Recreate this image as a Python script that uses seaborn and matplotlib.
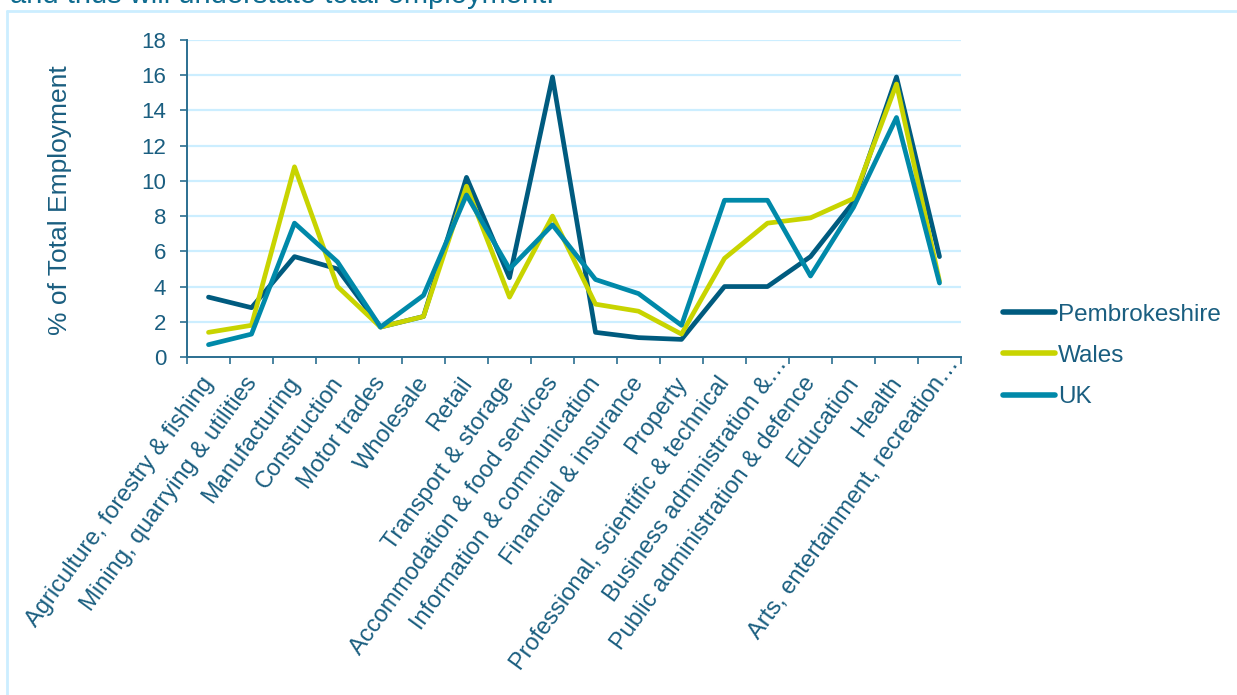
import matplotlib
matplotlib.use("Agg")
import numpy as np
import matplotlib.pyplot as plt
import matplotlib.transforms as mtransforms
from matplotlib.lines import Line2D
import seaborn as sns
import pandas as pd

# Employment share by sector (% of total employment)
sectors = [
    "Agriculture, forestry & fishing",
    "Mining, quarrying & utilities",
    "Manufacturing",
    "Construction",
    "Motor trades",
    "Wholesale",
    "Retail",
    "Transport & storage",
    "Accommodation & food services",
    "Information & communication",
    "Financial & insurance",
    "Property",
    "Professional, scientific & technical",
    "Business administration &\u2026",
    "Public administration & defence",
    "Education",
    "Health",
    "Arts, entertainment, recreation\u2026",
]
pembrokeshire = [3.4, 2.8, 5.7, 5.0, 1.7, 2.3, 10.2, 4.5, 15.9, 1.4, 1.1, 1.0, 4.0, 4.0, 5.7, 8.8, 15.9, 5.7]
wales = [1.4, 1.8, 10.8, 4.0, 1.7, 2.3, 9.7, 3.4, 8.0, 3.0, 2.6, 1.3, 5.6, 7.6, 7.9, 9.0, 15.5, 4.3]
uk = [0.7, 1.3, 7.6, 5.4, 1.7, 3.5, 9.2, 5.0, 7.5, 4.4, 3.6, 1.8, 8.9, 8.9, 4.6, 8.5, 13.6, 4.2]
areas = ["Pembrokeshire", "Wales", "UK"]
y_ticks = list(range(0, 20, 2))

palette = {"Pembrokeshire": "#005B7F", "Wales": "#C8D400", "UK": "#0089A9"}
text_color = "#1A5E80"
grid_color = "#CCEEFF"
spine_color = "#2B6F91"

df = pd.DataFrame({
    "Sector": sectors * 3,
    "Share": pembrokeshire + wales + uk,
    "Area": [a for a in areas for _ in sectors],
})

sns.set_theme(style="white")
plt.rcParams["font.family"] = ["Liberation Sans", "DejaVu Sans"]

W, H = 1237, 695
fig = plt.figure(figsize=(W / 100, H / 100), dpi=100)
ax = fig.add_axes([187 / W, 1 - 357 / H, (961 - 187) / W, (357 - 40) / H])

sns.lineplot(
    data=df, x="Sector", y="Share", hue="Area", hue_order=areas,
    palette=palette, sort=False, linewidth=3.4, ax=ax,
    solid_capstyle="round", legend=True,
)

ax.set_xlim(-0.5, len(sectors) - 0.5)
ax.set_ylim(0, 18)
ax.set_yticks(y_ticks)
ax.set_yticklabels([str(v) for v in y_ticks])
ax.set_xlabel("")
ax.set_ylabel("")

# horizontal gridlines
ax.grid(False)
for v in y_ticks[1:]:
    ax.axhline(v, color=grid_color, linewidth=1.6, zorder=0)

for side in ("top", "right"):
    ax.spines[side].set_visible(False)
for side in ("left", "bottom"):
    ax.spines[side].set_color(spine_color)
    ax.spines[side].set_linewidth(1.4)

ax.tick_params(axis="y", which="major", direction="out", length=5, width=1.2,
               color=spine_color, labelcolor=text_color, labelsize=16, pad=10, left=True)
# category labels at centres, tick marks between categories
ax.set_xticks(range(len(sectors)))
ax.set_xticklabels(sectors)
ax.set_xticks([i - 0.5 for i in range(len(sectors) + 1)], minor=True)
ax.tick_params(axis="x", which="major", length=0, labelsize=17,
               labelcolor=text_color, pad=18.5)
ax.tick_params(axis="x", which="minor", direction="out", length=5, width=1.2,
               color=spine_color, bottom=True)

angle = 54
direction = np.array([np.cos(np.radians(angle)), np.sin(np.radians(angle))])
for lab in ax.get_xticklabels():
    lab.set_rotation(angle)
    lab.set_ha("right")
    lab.set_va("baseline")
    lab.set_rotation_mode("anchor")
    dx, dy = 6.0, 0.0
    if lab.get_text().endswith("\u2026"):
        # truncated labels sit a little further along their own direction
        dx, dy = dx + 24 * direction[0], dy + 24 * direction[1]
    off = mtransforms.ScaledTranslation(dx / 100, dy / 100, fig.dpi_scale_trans)
    lab.set_transform(lab.get_transform() + off)

fig.text(60 / W, 1 - 200 / H, "% of Total Employment", rotation=90,
         ha="center", va="center", fontsize=19, color=text_color)

handles, labels = ax.get_legend_handles_labels()
ax.legend(handles, labels, loc="center left", bbox_to_anchor=(1003 / W, 1 - 356 / H),
          bbox_transform=fig.transFigure, frameon=False, fontsize=17.5,
          labelcolor=text_color, handlelength=2.15, handletextpad=0.1,
          labelspacing=0.8, borderpad=0, borderaxespad=0)
for line in ax.get_legend().get_lines():
    line.set_linewidth(4)
    line.set_solid_capstyle("round")

# frame around the chart area and the line of text above it
fig.add_artist(Line2D([7 / W, 1], [1 - 11 / H, 1 - 11 / H], transform=fig.transFigure,
                      color=grid_color, linewidth=2))
fig.add_artist(Line2D([7 / W, 7 / W], [0, 1 - 11 / H], transform=fig.transFigure,
                      color=grid_color, linewidth=2))
fig.text(10 / W, 1 - 3 / H, "and thus will understate total employment.",
         ha="left", va="baseline", fontsize=21, color="#0E6B8F")

fig.savefig("out.png", dpi=100)
